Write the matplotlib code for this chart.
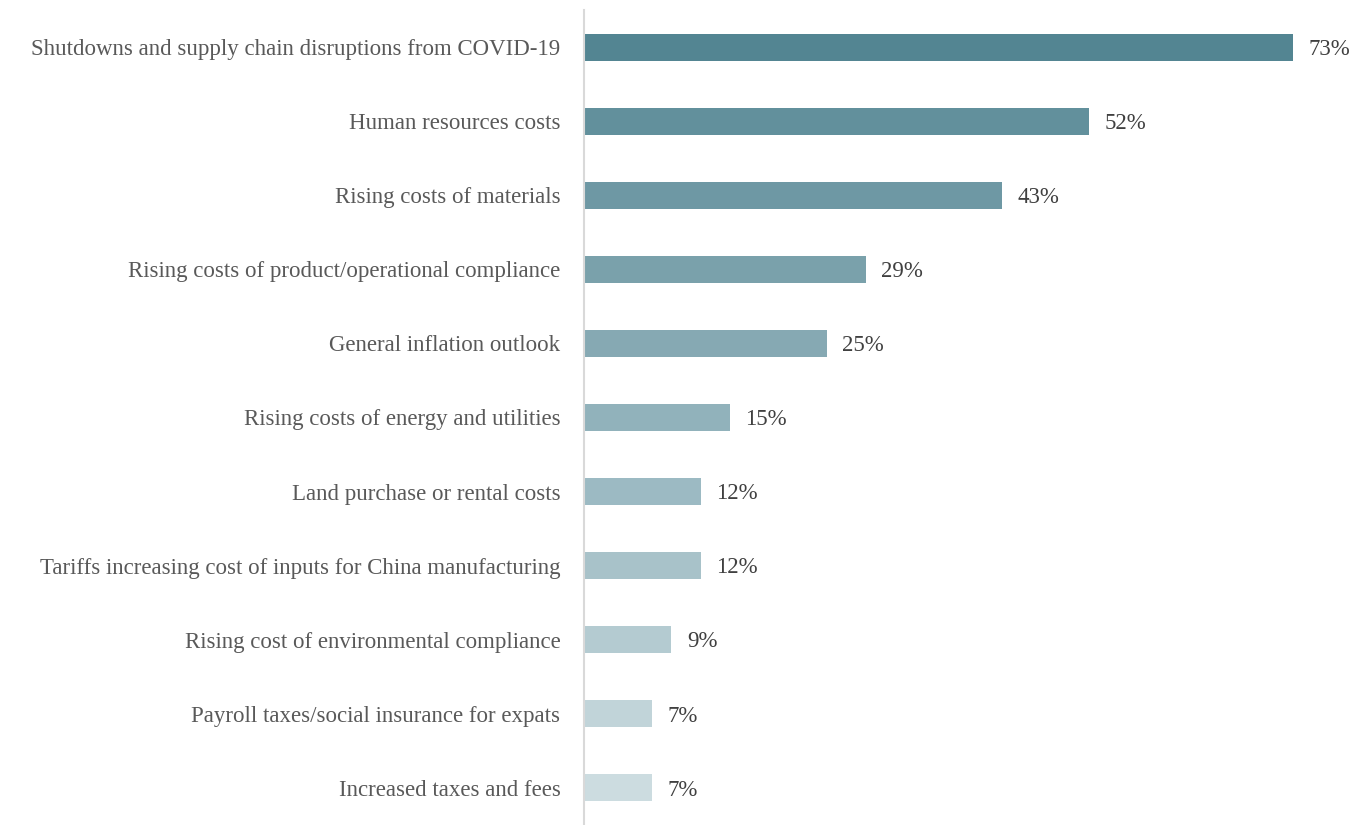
import matplotlib.pyplot as plt
import numpy as np

labels = [
    "Shutdowns and supply chain disruptions from COVID-19",
    "Human resources costs",
    "Rising costs of materials",
    "Rising costs of product/operational compliance",
    "General inflation outlook",
    "Rising costs of energy and utilities",
    "Land purchase or rental costs",
    "Tariffs increasing cost of inputs for China manufacturing",
    "Rising cost of environmental compliance",
    "Payroll taxes/social insurance for expats",
    "Increased taxes and fees",
]
values = [73, 52, 43, 29, 25, 15, 12, 12, 9, 7, 7]
colors = ["#538592", "#62909C", "#6E98A4", "#7AA1AB", "#86A9B3",
          "#91B2BB", "#9CBAC3", "#A8C2C9", "#B4CBD1", "#C1D4D9", "#CCDCE0"]

plt.rcParams['font.family'] = ['Liberation Serif', 'DejaVu Serif']

fig = plt.figure(figsize=(13.7, 8.25), dpi=100)
ax = fig.add_axes([584 / 1370, 0, 1 - 584 / 1370, 1 - 10 / 825])

y = np.arange(len(labels))
ax.barh(y, values, height=0.365, color=colors)
ax.set_ylim(len(labels) - 0.5, -0.5)
ax.set_xlim(0, 80.9)

for i, v in enumerate(values):
    ax.text(v + 1.6, i + 0.03, f"{v}%", va="center", ha="left", fontsize=16.5, color="#404040")

ax.set_yticks(y)
ax.set_yticklabels(labels, fontsize=16.5, color="#595959")
ax.tick_params(axis="y", length=0, pad=17)
ax.set_xticks([])

for s in ["top", "right", "bottom"]:
    ax.spines[s].set_visible(False)
ax.spines["left"].set_color("#D9D9D9")
ax.spines["left"].set_linewidth(1.5)

fig.savefig("out.png", dpi=100)
